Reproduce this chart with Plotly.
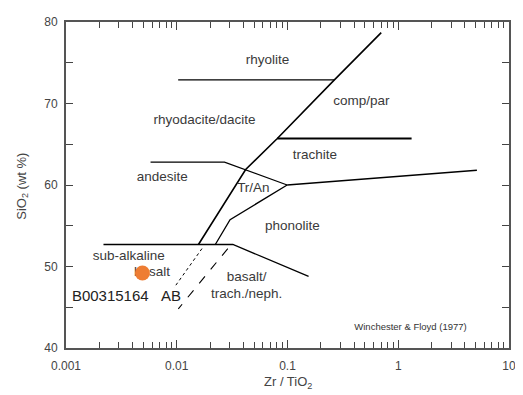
import plotly.graph_objects as go

# ---- axis ticks ----
x_tick_vals = [0.001, 0.01, 0.1, 1, 10]
x_tick_text = ["0.001", "0.01", "0.1", "1", "10"]
y_tick_vals = [40, 50, 60, 70, 80]

# ---- field boundary polylines (Zr/TiO2, SiO2) ----
rhyolite_x = [0.0103, 0.265]
rhyolite_y = [72.9, 72.9]
main_x = [0.702, 0.265, 0.0809, 0.0419, 0.0157]
main_y = [78.7, 72.9, 65.7, 61.9, 52.7]
comppar_x = [0.0809, 1.32]
comppar_y = [65.7, 65.7]
andesite_x = [0.0058, 0.027, 0.0993]
andesite_y = [62.8, 62.8, 60.0]
trachite_x = [0.0993, 5.13]
trachite_y = [60.0, 61.8]
tran_x = [0.0993, 0.0303, 0.0223]
tran_y = [60.0, 55.75, 52.7]
subalk_x = [0.00218, 0.0321, 0.155]
subalk_y = [52.7, 52.7, 48.8]
ab_dot_x = [0.0169, 0.00946]
ab_dot_y = [52.2, 47.4]
ab_dash_x = [0.0289, 0.01033]
ab_dash_y = [52.2, 44.8]

# ---- field labels ----
label_text = ["rhyolite", "comp/par", "rhyodacite/dacite", "trachite", "andesite",
              "Tr/An", "phonolite", "sub-alkaline", "basalt", "basalt/", "trach./neph."]
label_x = [0.0659, 0.465, 0.0178, 0.1768, 0.00739, 0.0492, 0.1109, 0.00369, 0.00597,
           0.0428, 0.0428]
label_y = [75.2, 70.2, 67.9, 63.6, 60.9, 59.6, 54.9, 51.2, 49.2, 48.6, 46.5]

# ---- sample ----
sample_name = "B00315164"
sample_x = [0.0049]
sample_y = [49.2]
sample_label_x = [0.00251]
sample_label_y = [46.2]
ab_label_x = [0.00886]
ab_label_y = [46.2]

ref_text = "Winchester & Floyd (1977)"
ref_x = [1.29]
ref_y = [42.45]

FONT = "Liberation Sans, Arial, sans-serif"
TXT = "#3a3a3a"

fig = go.Figure()

def line(xs, ys, width=1.3, dash="solid"):
    fig.add_trace(go.Scatter(x=xs, y=ys, mode="lines",
                             line=dict(color="black", width=width, dash=dash),
                             hoverinfo="skip", showlegend=False))

line(rhyolite_x, rhyolite_y)
line(main_x, main_y, width=1.6)
line(comppar_x, comppar_y, width=2)
line(andesite_x, andesite_y)
line(trachite_x, trachite_y, width=1.5)
line(tran_x, tran_y)
line(subalk_x, subalk_y)
line(ab_dot_x, ab_dot_y, width=1, dash="dot")
line(ab_dash_x, ab_dash_y, width=1.1, dash="dash")

fig.add_trace(go.Scatter(x=label_x, y=label_y, mode="text", text=label_text,
                         textposition="middle center",
                         textfont=dict(family=FONT, size=13.5, color=TXT),
                         hoverinfo="skip", showlegend=False))

fig.add_trace(go.Scatter(x=sample_x, y=sample_y, mode="markers",
                         marker=dict(color="#EE7D33", size=15, line=dict(width=0)),
                         name=sample_name, showlegend=False))

fig.add_trace(go.Scatter(x=sample_label_x + ab_label_x, y=sample_label_y + ab_label_y,
                         mode="text", text=[sample_name, "AB"],
                         textposition="middle center",
                         textfont=dict(family=FONT, size=15, color="#222"),
                         hoverinfo="skip", showlegend=False))

fig.add_trace(go.Scatter(x=ref_x, y=ref_y, mode="text", text=[ref_text],
                         textposition="middle center",
                         textfont=dict(family=FONT, size=9.5, color="#333"),
                         hoverinfo="skip", showlegend=False))

x_minor = [m * d for d in [0.001, 0.01, 0.1, 1] for m in range(2, 10)]

fig.update_xaxes(type="log", range=[-3, 1], showline=True, linecolor="#555", linewidth=2,
                 mirror="allticks", ticks="inside", ticklen=8, tickwidth=1, tickcolor="#444",
                 tickvals=x_tick_vals, ticktext=x_tick_text, showgrid=False, zeroline=False,
                 tickfont=dict(family=FONT, size=12, color="#444"), ticklabelstandoff=6,
                 minor=dict(tickvals=x_minor, ticks="inside", ticklen=6, tickwidth=1,
                            tickcolor="#444", showgrid=False))
fig.update_yaxes(range=[40, 80], showline=True, linecolor="#555", linewidth=2,
                 mirror="allticks", ticks="inside", ticklen=7, tickwidth=1, tickcolor="#444",
                 tickvals=y_tick_vals, showgrid=False, zeroline=False,
                 tickfont=dict(family=FONT, size=12, color="#444"), ticklabelstandoff=4,
                 minor=dict(dtick=5, tick0=40, ticks="inside", ticklen=7, tickwidth=1,
                            tickcolor="#444", showgrid=False))

fig.add_annotation(text="SiO<sub>2</sub> (wt %)", xref="paper", yref="paper",
                   x=-0.099, y=0.495, xanchor="center", yanchor="middle",
                   textangle=-90, showarrow=False,
                   font=dict(family=FONT, size=13, color="#444"))
fig.add_annotation(text="Zr / TiO<sub>2</sub>", xref="paper", yref="paper",
                   x=0.502, y=-0.105, xanchor="center", yanchor="middle", showarrow=False,
                   font=dict(family=FONT, size=13, color="#444"))

# page body has an 8px default margin; size/margins compensate for it
fig.update_layout(width=515, height=387, margin=dict(l=58, r=9, t=7, b=47),
                  paper_bgcolor="white", plot_bgcolor="white", showlegend=False)

fig.write_html("out.html")
